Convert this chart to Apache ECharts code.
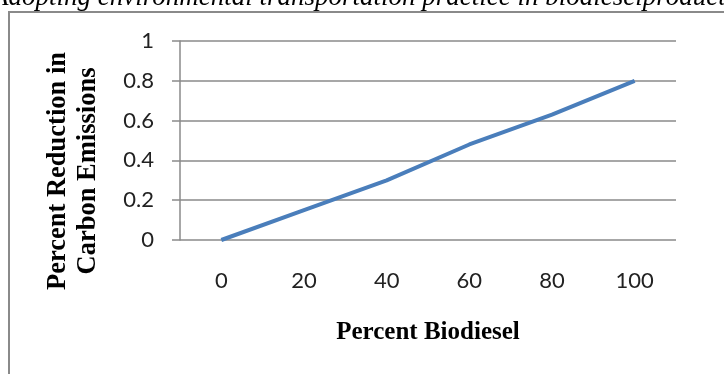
<!DOCTYPE html>
<html>
<head>
<meta charset="utf-8">
<script src="https://cdn.jsdelivr.net/npm/echarts@6/dist/echarts.min.js"></script>
<style>
  html, body { margin: 0; padding: 0; background: #ffffff; overflow: hidden; }
  #chart { width: 724px; height: 374px; }
</style>
</head>
<body>
<div id="chart"></div>
<script>
// Percent biodiesel in the blend (x categories)
const biodieselPercent = ['0', '20', '40', '60', '80', '100'];
// Fractional reduction in carbon emissions for each blend
const carbonReduction = [0, 0.15, 0.3, 0.48, 0.63, 0.8];
// Vertical scale
const yMin = 0;
const yMax = 1;
const yStep = 0.2;

const captionText = 'Adopting environmental transportation practice in biodieselproduction';
const xTitle = 'Percent Biodiesel';
const yTitle = 'Percent Reduction in\nCarbon Emissions';

const gray = '#8a8a8a';
const lineBlue = '#4a7ebb';
const tickFont = 'Lato, "Open Sans", sans-serif';
const serifFont = '"Liberation Serif", "Times New Roman", serif';

const chart = echarts.init(document.getElementById('chart'), null, { renderer: 'canvas' });

chart.setOption({
  animation: false,
  backgroundColor: '#ffffff',
  grid: { left: 180, right: 48, top: 41, bottom: 134, containLabel: false },
  graphic: [
    {
      type: 'rect',
      shape: { x: 9, y: 12, width: 800, height: 420 },
      style: { fill: 'none', stroke: gray, lineWidth: 2 },
      silent: true
    },
    {
      type: 'text',
      x: -8,
      y: 11,
      style: {
        text: captionText,
        font: 'italic 27px ' + serifFont,
        fill: '#000000',
        align: 'left',
        verticalAlign: 'bottom'
      },
      silent: true
    },
    {
      type: 'text',
      x: 73,
      y: 171,
      rotation: Math.PI / 2,
      style: {
        text: yTitle,
        font: 'bold 26.5px ' + serifFont,
        lineHeight: 30,
        fill: '#000000',
        align: 'center',
        verticalAlign: 'middle'
      },
      silent: true
    }
  ],
  xAxis: {
    type: 'category',
    data: biodieselPercent,
    boundaryGap: true,
    name: xTitle,
    nameLocation: 'middle',
    nameGap: 80,
    nameTextStyle: { fontFamily: serifFont, fontWeight: 'bold', fontSize: 25, color: '#000000' },
    axisLine: { show: false },
    axisTick: { show: false },
    axisLabel: { margin: 30, fontFamily: tickFont, fontSize: 22, color: '#222222' },
    splitLine: { show: false }
  },
  yAxis: {
    type: 'value',
    min: yMin,
    max: yMax,
    interval: yStep,
    axisLine: { show: true, lineStyle: { color: gray, width: 1.5 } },
    axisTick: { show: true, inside: false, length: 8, lineStyle: { color: gray, width: 1.5 } },
    axisLabel: { margin: 26, fontFamily: tickFont, fontSize: 22, color: '#222222' },
    splitLine: { show: true, lineStyle: { color: gray, width: 1.5 } }
  },
  series: [
    {
      type: 'line',
      data: carbonReduction,
      symbol: 'none',
      lineStyle: { color: lineBlue, width: 4 },
      smooth: false
    }
  ]
});
</script>
</body>
</html>
